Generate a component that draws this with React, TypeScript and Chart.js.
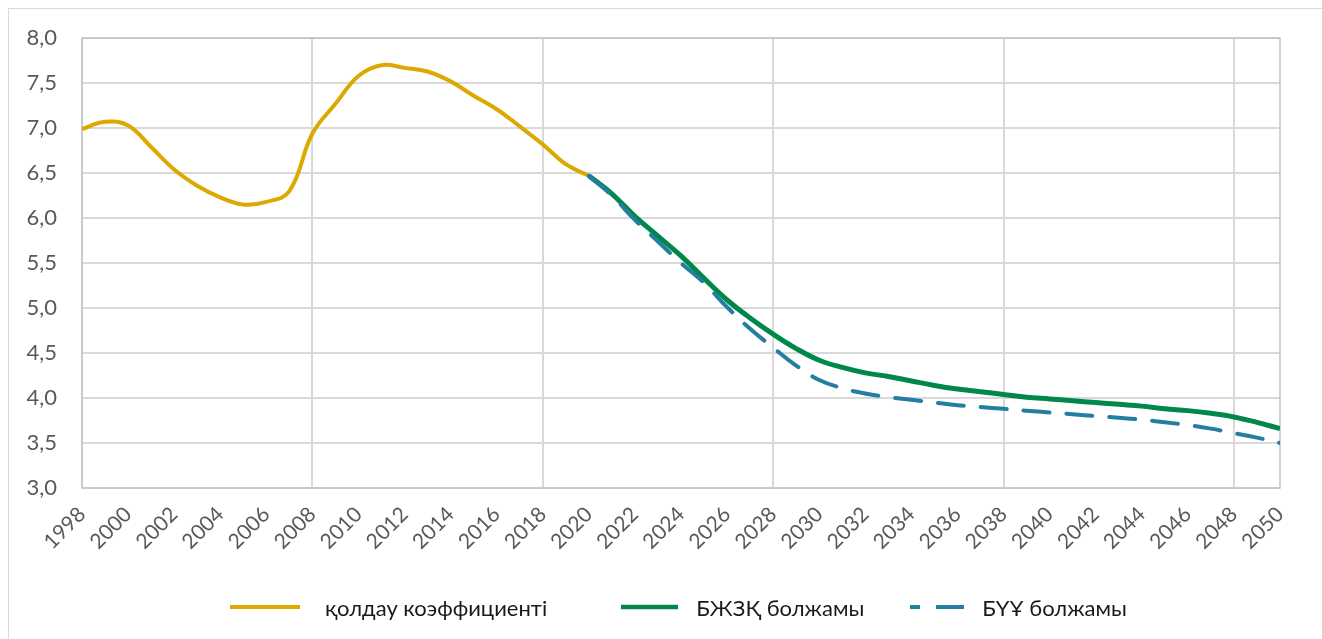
import React, { useEffect, useRef } from "react";
import { Chart, registerables } from "chart.js";

Chart.register(...registerables);

const histYears = [1998, 1999, 2000, 2001, 2002, 2003, 2004, 2005, 2006, 2007, 2008, 2009, 2010, 2011, 2012, 2013, 2014, 2015, 2016, 2017, 2018, 2019, 2020];
const supportRatio = [6.99, 7.07, 7.03, 6.79, 6.54, 6.36, 6.23, 6.15, 6.18, 6.30, 6.94, 7.27, 7.58, 7.70, 7.67, 7.63, 7.52, 7.36, 7.21, 7.02, 6.82, 6.60, 6.47];

const forecastYears = [2020, 2021, 2022, 2023, 2024, 2025, 2026, 2027, 2028, 2029, 2030, 2031, 2032, 2033, 2034, 2035, 2036, 2037, 2038, 2039, 2040, 2041, 2042, 2043, 2044, 2045, 2046, 2047, 2048, 2049, 2050];
const bzhzqForecast = [6.47, 6.27, 6.02, 5.80, 5.58, 5.33, 5.09, 4.89, 4.71, 4.55, 4.42, 4.34, 4.28, 4.24, 4.19, 4.14, 4.10, 4.07, 4.04, 4.01, 3.99, 3.97, 3.95, 3.93, 3.91, 3.88, 3.86, 3.83, 3.79, 3.73, 3.66];
const unForecast = [6.47, 6.25, 5.98, 5.74, 5.50, 5.28, 5.01, 4.77, 4.56, 4.36, 4.20, 4.11, 4.05, 4.01, 3.98, 3.95, 3.92, 3.90, 3.88, 3.86, 3.84, 3.82, 3.80, 3.78, 3.76, 3.73, 3.70, 3.66, 3.61, 3.56, 3.50];

const seriesNames = ["қолдау коэффициенті", "БЖЗҚ болжамы", "БҮҰ болжамы"];

const YELLOW = "#DBA900";
const GREEN = "#00874A";
const BLUE = "#237EA2";
const FONT = "Lato, 'Open Sans', sans-serif";

const toXY = (xs: number[], ys: number[]) => xs.map((x, i) => ({ x, y: ys[i] }));

export default function App() {
  const canvasRef = useRef<HTMLCanvasElement | null>(null);

  useEffect(() => {
    const canvas = canvasRef.current;
    if (!canvas) return;
    const borderPlugin = {
      id: "plotBorder",
      beforeDatasetsDraw(chart: any) {
        const { ctx, chartArea } = chart;
        ctx.save();
        ctx.strokeStyle = "#c4c4c4";
        ctx.lineWidth = 1.5;
        ctx.strokeRect(chartArea.left, chartArea.top, chartArea.right - chartArea.left, chartArea.bottom - chartArea.top);
        ctx.restore();
      },
    };
    const chart = new Chart(canvas, {
      type: "line",
      data: {
        datasets: [
          {
            label: seriesNames[0],
            data: toXY(histYears, supportRatio),
            borderColor: YELLOW,
            backgroundColor: YELLOW,
            borderWidth: 4,
            pointRadius: 0,
            tension: 0.4,
            order: 2,
          },
          {
            label: seriesNames[1],
            data: toXY(forecastYears, bzhzqForecast),
            borderColor: GREEN,
            backgroundColor: GREEN,
            borderWidth: 5,
            pointRadius: 0,
            tension: 0.4,
            order: 1,
          },
          {
            label: seriesNames[2],
            data: toXY(forecastYears, unForecast),
            borderColor: BLUE,
            backgroundColor: BLUE,
            borderWidth: 4,
            borderDash: [26, 17],
            borderCapStyle: "round",
            pointRadius: 0,
            tension: 0.4,
            order: 0,
          },
        ],
      },
      options: {
        responsive: false,
        animation: false,
        layout: { padding: { top: 37, right: 42, left: 0, bottom: 0 } },
        plugins: { legend: { display: false }, tooltip: { enabled: false } },
        scales: {
          x: {
            type: "linear",
            min: 1998,
            max: 2050,
            afterFit: (s: any) => { s.height = 151; },
            border: { display: false },
            grid: {
              drawTicks: false,
              lineWidth: 2,
              color: (c: any) => {
                const v = c.tick ? c.tick.value : 0;
                return (v - 1998) % 10 === 0 ? "#d9d9d9" : "rgba(0,0,0,0)";
              },
            },
            ticks: {
              stepSize: 2,
              autoSkip: false,
              maxRotation: 45,
              minRotation: 45,
              padding: 14,
              color: "#595959",
              font: { family: FONT, size: 21 },
              callback: (v: any) => String(v),
            },
          },
          y: {
            min: 3,
            max: 8,
            afterFit: (s: any) => { s.width = 82; },
            border: { display: false },
            grid: { drawTicks: false, color: "#d9d9d9", lineWidth: 2 },
            ticks: {
              stepSize: 0.5,
              padding: 25,
              color: "#595959",
              font: { family: FONT, size: 22 },
              callback: (v: any) => Number(v).toFixed(1).replace(".", ","),
            },
          },
        },
      },
      plugins: [borderPlugin],
    } as any);
    return () => chart.destroy();
  }, []);

  const legendText: React.CSSProperties = { fontFamily: FONT, fontSize: 22, color: "#1a1a1a", whiteSpace: "nowrap" };

  return (
    <div style={{ position: "absolute", left: 0, top: 0, width: 1322, height: 639, overflow: "hidden", background: "#fff" }}>
      <div style={{ position: "absolute", left: 8, top: 8, width: 1400, height: 700, borderLeft: "1px solid #d9d9d9", borderTop: "1px solid #d9d9d9" }} />
      <canvas ref={canvasRef} width={1322} height={639} style={{ position: "absolute", left: 0, top: 0 }} />
      <div style={{ position: "absolute", left: 230, top: 592, height: 30, display: "flex", alignItems: "center" }}>
        <svg width={70} height={6} style={{ display: "block" }}><line x1={0} y1={3} x2={70} y2={3} stroke={YELLOW} strokeWidth={4} /></svg>
        <span style={{ ...legendText, marginLeft: 25 }}>{seriesNames[0]}</span>
        <svg width={57} height={6} style={{ display: "block", marginLeft: 74 }}><line x1={0} y1={3} x2={57} y2={3} stroke={GREEN} strokeWidth={4.5} /></svg>
        <span style={{ ...legendText, marginLeft: 18 }}>{seriesNames[1]}</span>
        <svg width={54} height={6} style={{ display: "block", marginLeft: 46 }}><line x1={0} y1={3} x2={54} y2={3} stroke={BLUE} strokeWidth={4} strokeDasharray="10 16 28 0" /></svg>
        <span style={{ ...legendText, marginLeft: 18 }}>{seriesNames[2]}</span>
      </div>
    </div>
  );
}
